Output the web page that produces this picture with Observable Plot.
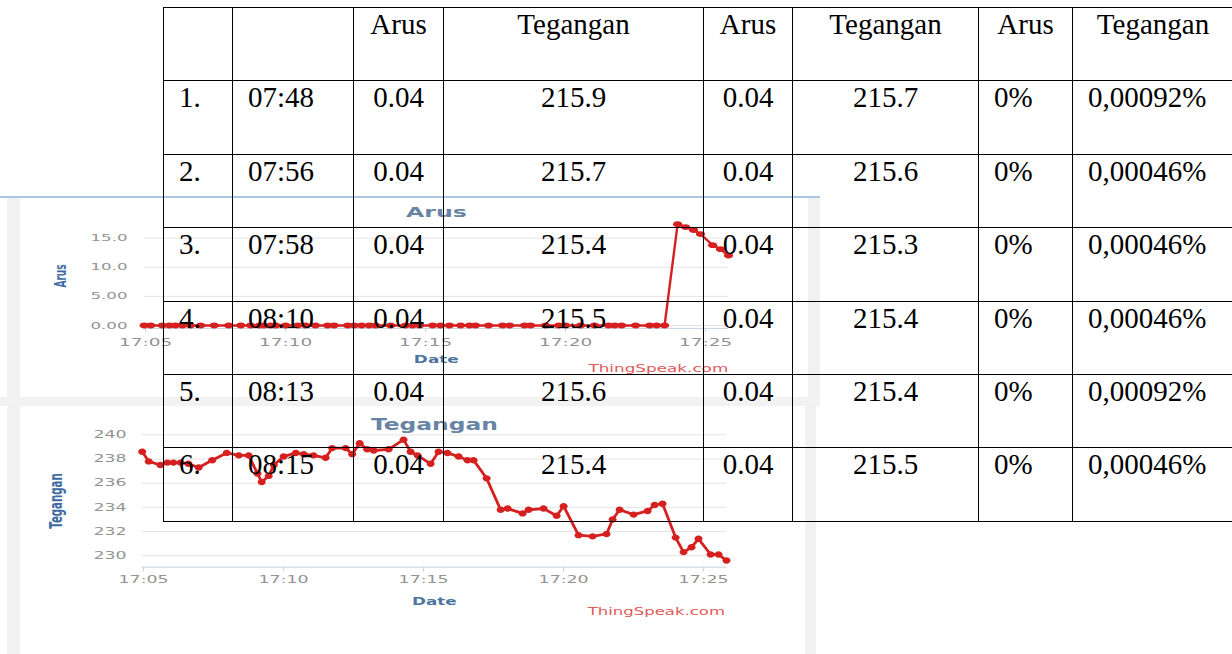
<!DOCTYPE html>
<html><head><meta charset="utf-8">
<script src="https://cdn.jsdelivr.net/npm/d3@7"></script>
<script src="https://cdn.jsdelivr.net/npm/@observablehq/plot@0.6"></script>
<style>
html,body{margin:0;padding:0;background:#fff;width:1232px;height:654px;overflow:hidden;}
#page{position:relative;width:1232px;height:654px;overflow:hidden;background:#fff;}
.blk{position:absolute;}
.chart{position:absolute;}
table{position:absolute;left:163px;top:7px;border-collapse:collapse;table-layout:fixed;
  font-family:"Liberation Serif","Times New Roman",serif;font-size:29px;color:#000;background:transparent;}
tr{height:73.4px;}
td{border:1px solid #000;vertical-align:top;padding:0 0 0 15px;text-align:left;white-space:nowrap;line-height:1.15;box-sizing:border-box;}
td.c{text-align:center;padding:0;}
</style></head>
<body><div id="page">
<div class="blk" style="left:0;top:196px;width:820px;height:2px;background:#a9c6e4"></div>
<div class="blk" style="left:7px;top:198px;width:13px;height:456px;background:#f1f1f1"></div>
<div class="blk" style="left:808px;top:198px;width:12px;height:200px;background:#f1f1f1"></div>
<div class="blk" style="left:0;top:397px;width:820px;height:9px;background:#f2f2f2"></div>
<div class="blk" style="left:805px;top:406px;width:11px;height:248px;background:#f1f1f1"></div>
<div class="chart" id="c1" style="left:2px;top:197px"></div>
<div class="chart" id="c2" style="left:0;top:400px"></div>
</div>
<script>
// ---- data ----
const times = ["17:04:57","17:05:11","17:05:36","17:05:51","17:06:04","17:06:19","17:06:36","17:06:58","17:07:27","17:07:58",
"17:08:24","17:08:45","17:09:04","17:09:13","17:09:28","17:09:39","17:10:00","17:10:26","17:10:43","17:11:04",
"17:11:30","17:11:44","17:12:13","17:12:27","17:12:43","17:12:59","17:13:13","17:13:45","17:14:17","17:14:32",
"17:14:47","17:15:15","17:15:32","17:15:51","17:16:15","17:16:34","17:16:47","17:17:15","17:17:45","17:18:00",
"17:18:32","17:18:45","17:19:17","17:19:45","17:20:00","17:20:32","17:21:02","17:21:32","17:21:45","17:22:00",
"17:22:30","17:23:00","17:23:15","17:23:32","17:24:00","17:24:17","17:24:34","17:24:49","17:25:15","17:25:32","17:25:49"];
const arus = [0,0,0,0,0,0,0,0,0,0, 0,0,0,0,0,0,0,0,0,0, 0,0,0,0,0,0,0,0,0,0,
0,0,0,0,0,0,0,0,0,0, 0,0,0,0,0,0,0,0,0,0, 0,0,0,0, 17.4,16.9,16.4,15.7,13.8,13.1,12.0];
const tegangan = [238.6,237.8,237.5,237.7,237.7,237.7,237.6,237.3,237.9,238.5,
238.3,238.3,236.8,236.1,236.6,237.5,238.2,238.5,238.4,238.3,
238.1,238.9,238.9,238.4,239.3,238.8,238.7,238.8,239.6,238.6,
238.3,237.6,238.6,238.5,238.2,237.9,237.9,236.4,233.8,233.9,
233.5,233.8,233.9,233.3,234.1,231.7,231.6,231.8,233.0,233.8,
233.4,233.7,234.2,234.3,231.5,230.3,230.7,231.4,230.1,230.1,229.6];
const xTickLabels = ["17:05","17:10","17:15","17:20","17:25"];
const arusTicks = [0,5,10,15];
const arusTickLabels = ["0.00","5.00","10.0","15.0"];
const teganganTicks = [230,232,234,236,238,240];
const teganganTickLabels = ["230","232","234","236","238","240"];

const tableHead = ["","","Arus","Tegangan","Arus","Tegangan","Arus","Tegangan"];
const nomor = ["1.","2.","3.","4.","5.","6."];
const jam = ["07:48","07:56","07:58","08:10","08:13","08:15"];
const arusAlat = ["0.04","0.04","0.04","0.04","0.04","0.04"];
const teganganAlat = ["215.9","215.7","215.4","215.5","215.6","215.4"];
const arusMeter = ["0.04","0.04","0.04","0.04","0.04","0.04"];
const teganganMeter = ["215.7","215.6","215.3","215.4","215.4","215.5"];
const errorArus = ["0%","0%","0%","0%","0%","0%"];
const errorTegangan = ["0,00092%","0,00046%","0,00046%","0,00046%","0,00092%","0,00046%"];

// ---- charts ----
const RED = "#d62020";
const toDate = s => { const [h,m,sec=0] = s.split(":").map(Number); return new Date(2020,0,1,h,m,sec); };
const data = times.map((t,i) => ({date: toDate(t), arus: arus[i], tegangan: tegangan[i]}));
const xTicks = xTickLabels.map(toDate);
const ellipse = sx => ({draw(ctx, size){
  const r = Math.sqrt(size/Math.PI), rx = r*sx, ry = r, k = 0.5523;
  ctx.moveTo(rx,0);
  ctx.bezierCurveTo(rx,ry*k,rx*k,ry,0,ry);
  ctx.bezierCurveTo(-rx*k,ry,-rx,ry*k,-rx,0);
  ctx.bezierCurveTo(-rx,-ry*k,-rx*k,-ry,0,-ry);
  ctx.bezierCurveTo(rx*k,-ry,rx,-ry*k,rx,0);
  ctx.closePath();
}});

function chart(c){
  const txt = {text: d => d, textAnchor: "middle", lineAnchor: "middle", fontFamily: "DejaVu Sans"};
  return Plot.plot({
    width: 812, height: c.height,
    marginLeft: 141.7, marginRight: 86, marginTop: c.mt, marginBottom: c.mb,
    style: {background: "transparent", fontFamily: "DejaVu Sans", overflow: "visible", maxWidth: "none"},
    x: {type: "time", domain: d3.extent(data, d => d.date), axis: null, label: null},
    y: {domain: c.yDomain, axis: null, label: null},
    marks: [
      Plot.gridY(c.ticks, {stroke: "#e3e3e3", strokeOpacity: 1}),
      Plot.ruleY([c.yDomain[0]], {stroke: "#c4d3e3"}),
      Plot.axisX(xTicks, {tickSize: c.tickSize, tickPadding: c.xPad, tickFormat: d3.timeFormat("%H:%M"),
        stroke: "#c4d3e3", fill: "#939393", fontSize: c.xFont, label: null}),
      Plot.axisY(c.ticks, {tickSize: 0, tickPadding: c.yPad, tickFormat: d => c.tickLabels[c.ticks.indexOf(d)],
        fill: "#939393", fontSize: c.yFont, label: null}),
      Plot.line(data, {x: "date", y: c.key, stroke: RED, strokeWidth: c.sw}),
      Plot.dot(data, {x: "date", y: c.key, r: c.r, symbol: ellipse(c.sx), fill: RED, stroke: "none"}),
      Plot.text([c.title], {...txt, frameAnchor: "top", dy: c.titleDy, fontSize: c.titleFont, fontWeight: "bold", fill: "#6784a4"}),
      Plot.text([c.title], {...txt, frameAnchor: "left", rotate: -90, dx: c.ylabDx, fontSize: c.ylabFont, fontWeight: "bold", fill: "#3f6ba3"}),
      Plot.text(["Date"], {...txt, frameAnchor: "bottom", dy: c.dateDy, fontSize: c.dateFont, fontWeight: "bold", fill: "#4d759e"}),
      Plot.text(["ThingSpeak.com"], {...txt, frameAnchor: "bottom", dx: 222, dy: c.tsDy, fontSize: c.dateFont, fill: "#e05a5a"})
    ]
  });
}

function stretch(svg, f){
  svg.querySelectorAll("text").forEach(t => {
    const g = t.closest("g");
    const lab = g ? g.getAttribute("aria-label") : "";
    const s = t.textContent;
    const tr = t.getAttribute("transform") || "";
    let k;
    if (lab === "x-axis tick label" || /^\d\d:\d\d$/.test(s)) k = f.x;
    else if (lab === "y-axis tick label") k = f.y;
    else if (s === "Date") k = f.date;
    else if (s === "ThingSpeak.com") k = f.ts;
    else if (tr.includes("rotate")) k = f.ylab;
    else k = f.title;
    const w = t.getComputedTextLength();
    if (w > 0) { t.setAttribute("textLength", (w*k).toFixed(1)); t.setAttribute("lengthAdjust", "spacingAndGlyphs"); }
  });
}

const c1 = chart({height: 195, mt: 26.1, mb: 64.1, yDomain: [-0.5, 17.5], key: "arus",
  ticks: arusTicks, tickLabels: arusTickLabels, tickSize: 4, xPad: 6.5, yPad: 16.7, xFont: 10, yFont: 9.5,
  sw: 2.4, r: 2.9, sx: 1.6, title: "Arus", titleDy: -11.4, titleFont: 14, ylabDx: -82.7, ylabFont: 15,
  dateDy: 31.8, tsDy: 40.6, dateFont: 10});
document.getElementById("c1").appendChild(c1);
stretch(c1, {x: 1.85, y: 1.75, title: 1.69, date: 1.69, ts: 1.68, ylab: 0.6});

const c2 = chart({height: 254, mt: 34.3, mb: 87.3, yDomain: [229.05, 240], key: "tegangan",
  ticks: teganganTicks, tickLabels: teganganTickLabels, tickSize: 5, xPad: 3.1, yPad: 15.7, xFont: 11, yFont: 10,
  sw: 2.8, r: 3.2, sx: 1.25, title: "Tegangan", titleDy: -9.6, titleFont: 16, ylabDx: -85.7, ylabFont: 17,
  dateDy: 34.3, tsDy: 44.3, dateFont: 11});
document.getElementById("c2").appendChild(c2);
stretch(c2, {x: 1.58, y: 1.73, title: 1.46, date: 1.53, ts: 1.5, ylab: 0.6});

// ---- table ----
const colWidths = [69,121,90,260,89,186,94,161];
const cols = [nomor, jam, arusAlat, teganganAlat, arusMeter, teganganMeter, errorArus, errorTegangan];
const centered = [false,false,true,true,true,true,false,false];
const table = document.createElement("table");
table.style.width = d3.sum(colWidths) + "px";
const cg = document.createElement("colgroup");
colWidths.forEach(w => { const col = document.createElement("col"); col.style.width = w + "px"; cg.appendChild(col); });
table.appendChild(cg);
const head = document.createElement("tr");
tableHead.forEach(h => { const td = document.createElement("td"); td.className = "c"; td.textContent = h; head.appendChild(td); });
table.appendChild(head);
nomor.forEach((_, i) => {
  const tr = document.createElement("tr");
  cols.forEach((col, j) => { const td = document.createElement("td"); if (centered[j]) td.className = "c"; td.textContent = col[i]; tr.appendChild(td); });
  table.appendChild(tr);
});
document.getElementById("page").appendChild(table);
</script>
</body></html>
